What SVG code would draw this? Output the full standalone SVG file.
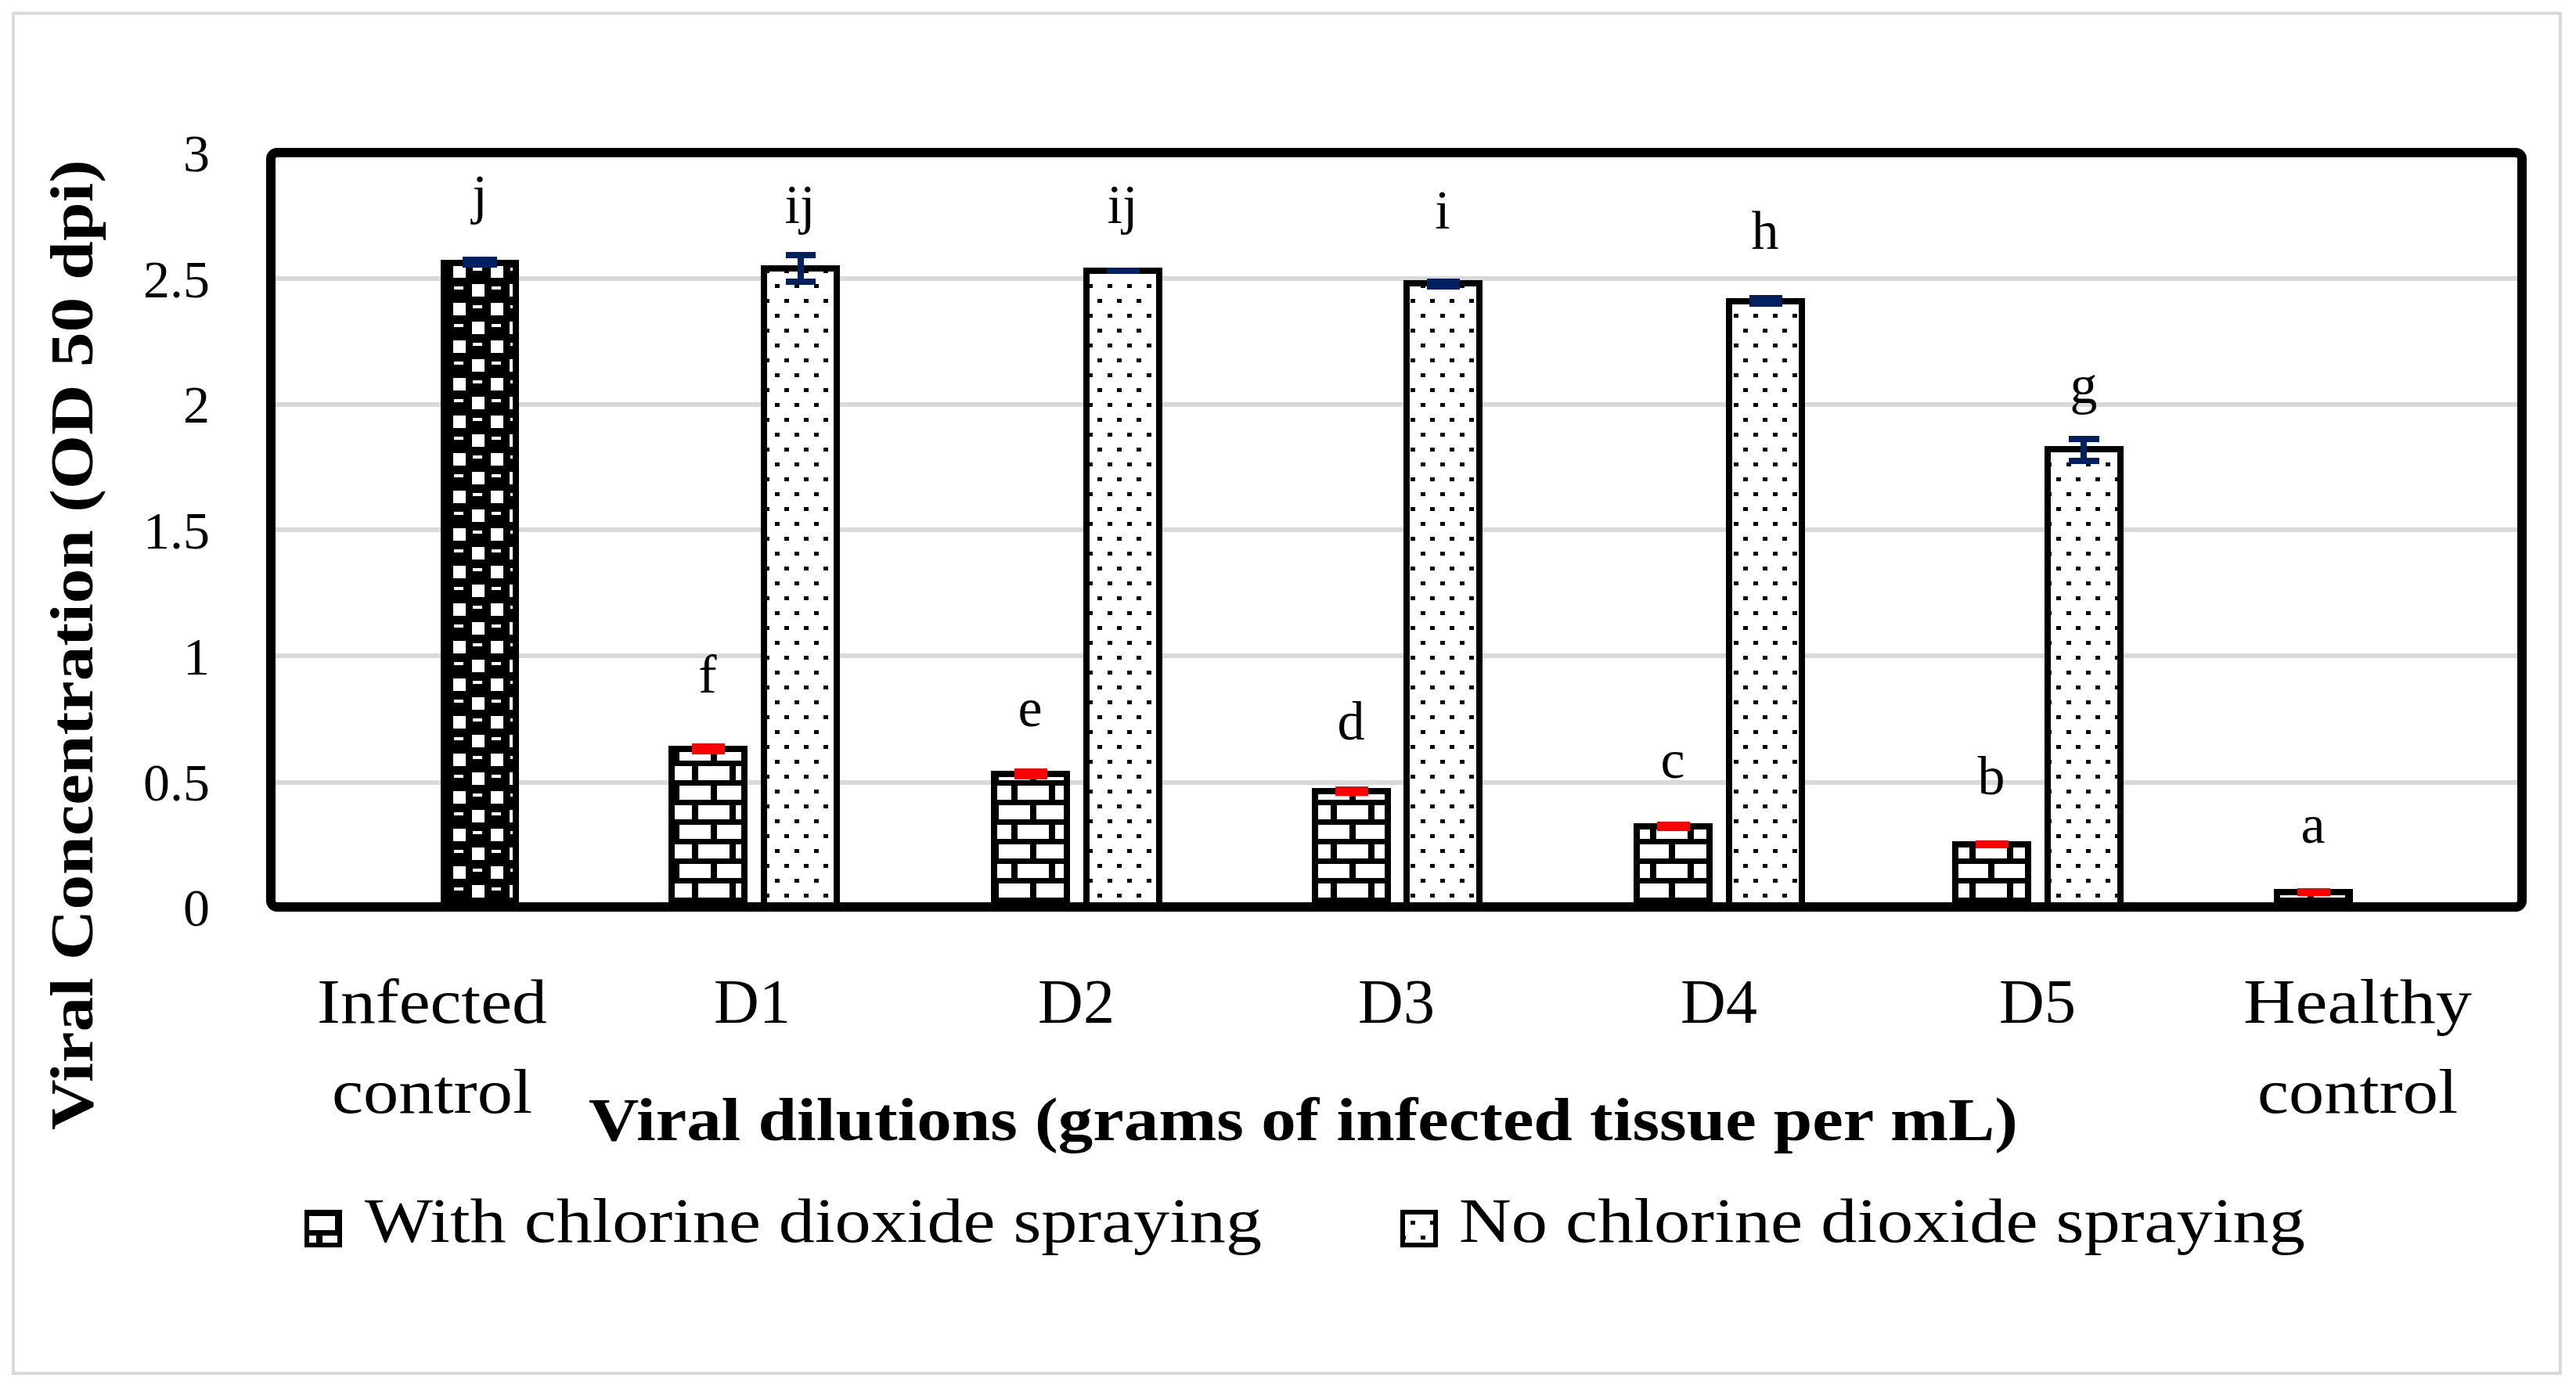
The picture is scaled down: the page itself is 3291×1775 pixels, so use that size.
<svg xmlns="http://www.w3.org/2000/svg" width="3291" height="1775" viewBox="0 0 3291 1775">
<style>
text{font-family:"Liberation Serif",serif;fill:#000}
.tk{font-size:68px;text-anchor:end}
.lt{font-size:70px;text-anchor:middle}
.xl{font-size:80px;text-anchor:middle}
.ttl{font-size:78px;font-weight:bold;text-anchor:middle}
.grid{stroke:#d9d9d9;stroke-width:6}
.bar{stroke:#000;stroke-width:8}
.eb{stroke:#002060;stroke-width:8;fill:none}
.er{fill:#ff0000}
</style>
<defs>
<pattern id="brick" width="48" height="50" patternUnits="userSpaceOnUse">
<rect width="48" height="50" fill="#000"/>
<rect x="4" y="4" width="40" height="18" fill="#fff"/>
<rect x="-20" y="29" width="40" height="18" fill="#fff"/>
<rect x="28" y="29" width="40" height="18" fill="#fff"/>
</pattern>
<pattern id="dots" width="50" height="38" patternUnits="userSpaceOnUse">
<rect width="50" height="38" fill="#fff"/>
<rect x="2" y="2" width="6" height="5" fill="#000"/>
<rect x="27" y="2" width="6" height="5" fill="#000"/>
<rect x="15" y="21" width="6" height="5" fill="#000"/>
<rect x="40" y="21" width="6" height="5" fill="#000"/>
</pattern>
<pattern id="check" width="48" height="48" patternUnits="userSpaceOnUse">
<rect width="48" height="48" fill="#000"/>
<rect x="3" y="3" width="16" height="16" fill="#fff"/>
<rect x="27" y="27" width="16" height="16" fill="#fff"/>
<rect x="28" y="6" width="12" height="4" fill="#fff"/>
<rect x="4" y="30" width="12" height="4" fill="#fff"/>
</pattern>
</defs>
<rect x="17" y="17" width="3254" height="1738" fill="#fff" stroke="#d9d9d9" stroke-width="4"/>
<g id="grid">
<line class="grid" x1="352" y1="1000" x2="3216" y2="1000"/>
<line class="grid" x1="352" y1="838" x2="3216" y2="838"/>
<line class="grid" x1="352" y1="677" x2="3216" y2="677"/>
<line class="grid" x1="352" y1="517" x2="3216" y2="517"/>
<line class="grid" x1="352" y1="356" x2="3216" y2="356"/>
</g>
<g id="yticks">
<text class="tk" x="268" y="1183">0</text>
<text class="tk" x="268" y="1023">0.5</text>
<text class="tk" x="268" y="862">1</text>
<text class="tk" x="268" y="701">1.5</text>
<text class="tk" x="268" y="540">2</text>
<text class="tk" x="268" y="380">2.5</text>
<text class="tk" x="268" y="219">3</text>
</g>
<g id="bar-infected">
<rect class="bar" x="567" y="336" width="92" height="823" fill="url(#check)"/>
<rect x="591" y="328" width="44" height="14" fill="#002060"/>
<text class="lt" x="613" y="272">j</text>
</g>
<g id="bar-d1">
<rect class="bar" x="858" y="957" width="93" height="202" fill="url(#brick)"/>
<rect class="er" x="884" y="950" width="42" height="14"/>
<text class="lt" x="904" y="885">f</text>
<rect class="bar" x="976" y="343" width="93" height="816" fill="url(#dots)"/>
<path class="eb" d="M1004 326H1042M1023 326V360M1004 360H1042"/>
<text class="lt" x="1022" y="285">ij</text>
</g>
<g id="bar-d2">
<rect class="bar" x="1270" y="989" width="93" height="170" fill="url(#brick)"/>
<rect class="er" x="1296" y="982" width="42" height="14"/>
<text class="lt" x="1316" y="928">e</text>
<rect class="bar" x="1388" y="346" width="93" height="813" fill="url(#dots)"/>
<rect x="1414" y="342" width="42" height="8" fill="#002060"/>
<text class="lt" x="1434" y="285">ij</text>
</g>
<g id="bar-d3">
<rect class="bar" x="1680" y="1011" width="93" height="148" fill="url(#brick)"/>
<rect class="er" x="1706" y="1005" width="42" height="12"/>
<text class="lt" x="1726" y="945">d</text>
<rect class="bar" x="1797" y="362" width="93" height="797" fill="url(#dots)"/>
<rect x="1823" y="356" width="42" height="14" fill="#002060"/>
<text class="lt" x="1843" y="292">i</text>
</g>
<g id="bar-d4">
<rect class="bar" x="2091" y="1056" width="93" height="103" fill="url(#brick)"/>
<rect class="er" x="2117" y="1050" width="42" height="12"/>
<text class="lt" x="2137" y="994">c</text>
<rect class="bar" x="2209" y="385" width="93" height="774" fill="url(#dots)"/>
<rect x="2235" y="377" width="42" height="15" fill="#002060"/>
<text class="lt" x="2255" y="318">h</text>
</g>
<g id="bar-d5">
<rect class="bar" x="2498" y="1079" width="93" height="80" fill="url(#brick)"/>
<rect class="er" x="2524" y="1074" width="42" height="10"/>
<text class="lt" x="2544" y="1015">b</text>
<rect class="bar" x="2616" y="574" width="93" height="585" fill="url(#dots)"/>
<path class="eb" d="M2643 561H2682M2662 561V589M2643 589H2682"/>
<text class="lt" x="2662" y="515">g</text>
</g>
<g id="bar-healthy">
<rect class="bar" x="2909" y="1140" width="93" height="19" fill="url(#brick)"/>
<rect class="er" x="2935" y="1135" width="42" height="10"/>
<text class="lt" x="2955" y="1077">a</text>
</g>
<rect id="frame" x="346" y="195" width="2876" height="964" rx="8" fill="none" stroke="#000" stroke-width="12"/>
<g id="xlabels">
<text class="xl" x="552" y="1307" textLength="294" lengthAdjust="spacingAndGlyphs">Infected</text>
<text class="xl" x="552" y="1422" textLength="256" lengthAdjust="spacingAndGlyphs">control</text>
<text class="xl" x="961" y="1307">D1</text>
<text class="xl" x="1375" y="1307">D2</text>
<text class="xl" x="1784" y="1307">D3</text>
<text class="xl" x="2196" y="1307">D4</text>
<text class="xl" x="2603" y="1307">D5</text>
<text class="xl" x="3012" y="1307" textLength="292" lengthAdjust="spacingAndGlyphs">Healthy</text>
<text class="xl" x="3012" y="1422" textLength="256" lengthAdjust="spacingAndGlyphs">control</text>
</g>
<text class="ttl" x="1665" y="1457" textLength="1826" lengthAdjust="spacingAndGlyphs">Viral dilutions (grams of infected tissue per mL)</text>
<text class="ttl" transform="translate(118 824) rotate(-90)" textLength="1240" lengthAdjust="spacingAndGlyphs">Viral Concentration (OD 50 dpi)</text>
<g id="legend">
<rect x="392" y="1549" width="42" height="42" fill="url(#brick)" stroke="#000" stroke-width="6"/>
<text x="466" y="1587" style="font-size:80px" textLength="1146" lengthAdjust="spacingAndGlyphs">With chlorine dioxide spraying</text>
<rect x="1792" y="1549" width="42" height="42" fill="url(#dots)" stroke="#000" stroke-width="6"/>
<text x="1864" y="1587" style="font-size:80px" textLength="1081" lengthAdjust="spacingAndGlyphs">No chlorine dioxide spraying</text>
</g>
</svg>
